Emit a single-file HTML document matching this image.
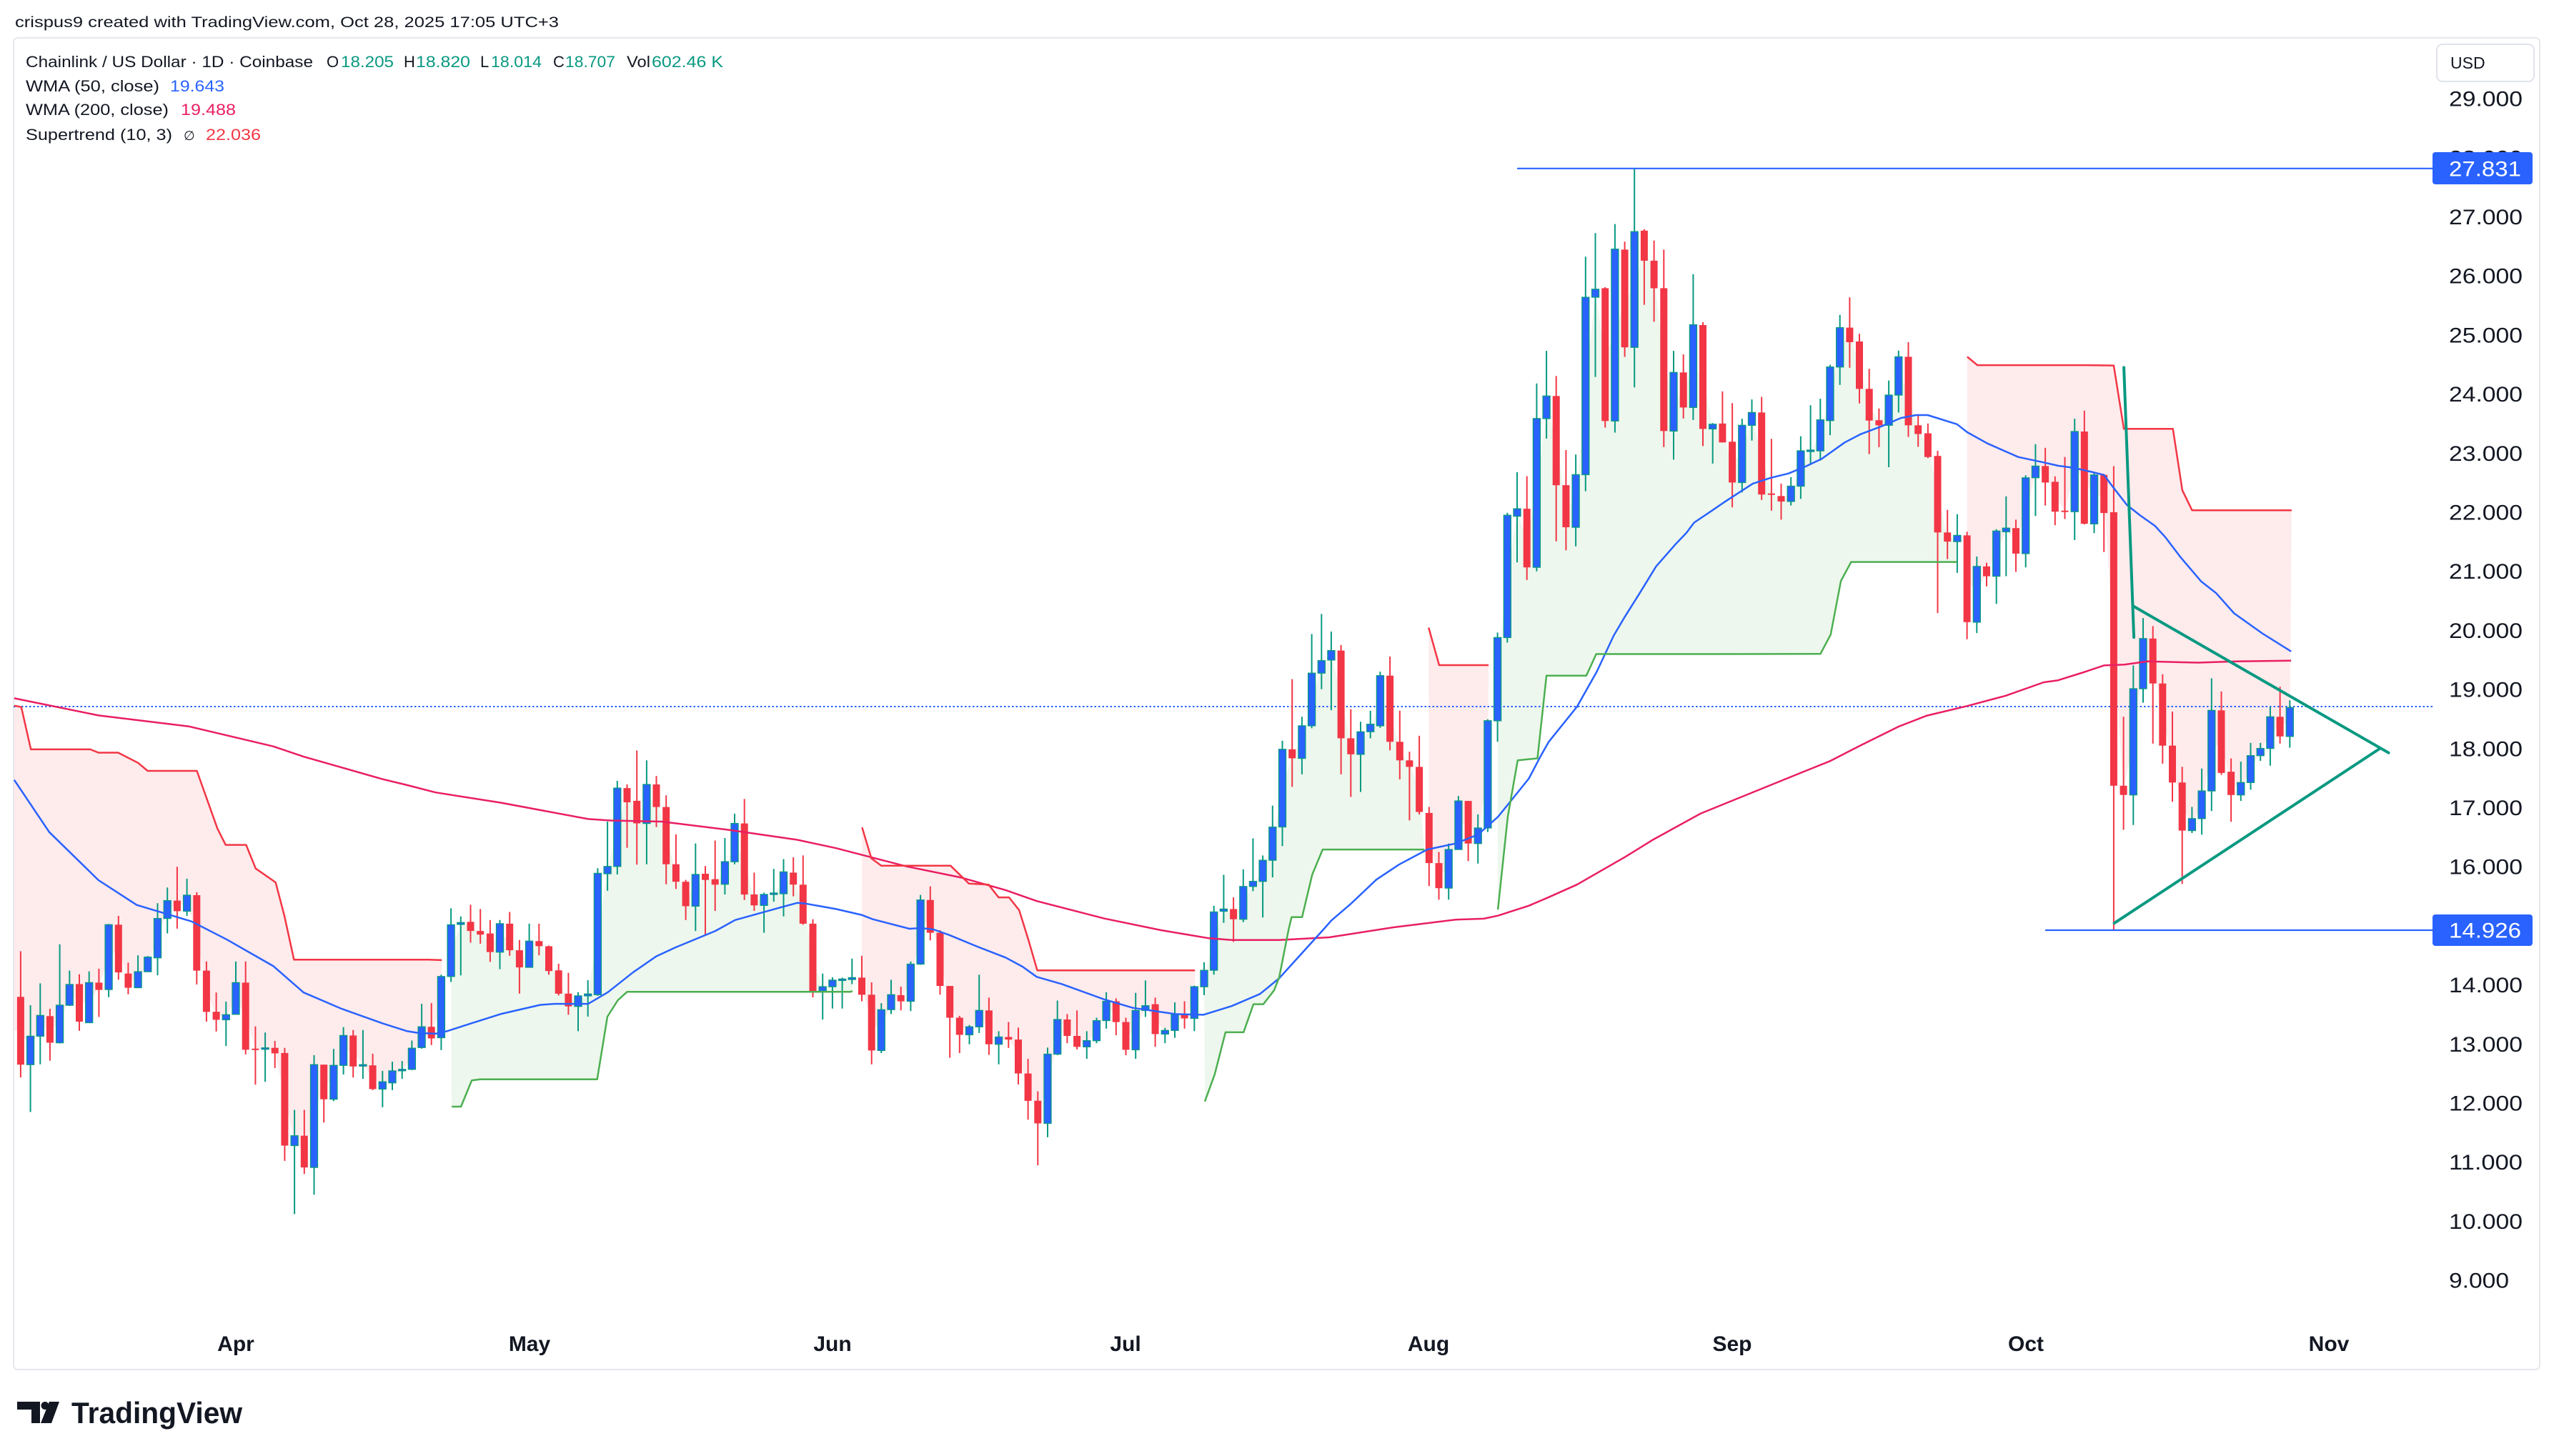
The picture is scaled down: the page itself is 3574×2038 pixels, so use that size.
<!DOCTYPE html>
<html><head><meta charset="utf-8">
<style>
html,body{margin:0;padding:0;background:#fff;width:3574px;height:2038px;overflow:hidden}
svg{display:block}
text{font-family:"Liberation Sans",Arial,sans-serif}
</style></head><body>
<svg id="s" xmlns="http://www.w3.org/2000/svg" width="3574" height="2038" viewBox="0 0 3574 2038">
<rect x="0" y="0" width="3574" height="2038" fill="#ffffff"/>
<rect x="19" y="53" width="3535" height="1864" rx="6" fill="#ffffff" stroke="#e6e8ec" stroke-width="2"/>

<text x="21" y="38" font-size="21" fill="#131722" textLength="761" lengthAdjust="spacingAndGlyphs">crispus9 created with TradingView.com, Oct 28, 2025 17:05 UTC+3</text>

<g id="fills"></g>
<line x1="19" y1="989" x2="3404" y2="989" stroke="#2962ff" stroke-width="2" stroke-dasharray="2.5 3"/>
<g id="cand"></g>
<g id="lines"></g>

<!-- drawings -->
<line x1="2123" y1="235.8" x2="3404" y2="235.8" stroke="#2962ff" stroke-width="2.2"/>
<line x1="2862" y1="1302" x2="3404" y2="1302" stroke="#2962ff" stroke-width="2.2"/>
<g stroke="#089981" stroke-width="4" stroke-linecap="round" fill="none">
<line x1="2972.1" y1="514.4" x2="2986.1" y2="892.1"/>
<line x1="2986.1" y1="848.9" x2="3342.5" y2="1053.7"/>
<line x1="2958.6" y1="1292.2" x2="3330.7" y2="1047.5"/>
</g>

<!-- legend -->
<g font-size="22" fill="#131722">
<text x="36" y="94" textLength="402" lengthAdjust="spacingAndGlyphs">Chainlink / US Dollar · 1D · Coinbase</text>
<text x="457" y="94">O</text><text x="477" y="94" fill="#089981" textLength="74" lengthAdjust="spacingAndGlyphs">18.205</text>
<text x="565" y="94">H</text><text x="582" y="94" fill="#089981" textLength="76" lengthAdjust="spacingAndGlyphs">18.820</text>
<text x="672" y="94">L</text><text x="687" y="94" fill="#089981" textLength="71" lengthAdjust="spacingAndGlyphs">18.014</text>
<text x="774" y="94">C</text><text x="791" y="94" fill="#089981" textLength="70" lengthAdjust="spacingAndGlyphs">18.707</text>
<text x="877" y="94" textLength="33" lengthAdjust="spacingAndGlyphs">Vol</text><text x="912" y="94" fill="#089981" textLength="100" lengthAdjust="spacingAndGlyphs">602.46 K</text>
<text x="36" y="128" textLength="187" lengthAdjust="spacingAndGlyphs">WMA (50, close)</text>
<text x="238" y="128" fill="#2962ff" textLength="76" lengthAdjust="spacingAndGlyphs">19.643</text>
<text x="36" y="161" textLength="200" lengthAdjust="spacingAndGlyphs">WMA (200, close)</text>
<text x="253" y="161" fill="#e91e63" textLength="77" lengthAdjust="spacingAndGlyphs">19.488</text>
<text x="36" y="196" textLength="205" lengthAdjust="spacingAndGlyphs">Supertrend (10, 3)</text>
<text x="257" y="196" font-family="DejaVu Sans, sans-serif" font-size="18">∅</text>
<text x="288" y="196" fill="#f23645" textLength="77" lengthAdjust="spacingAndGlyphs">22.036</text>
</g>

<!-- price axis -->
<rect x="3410" y="62" width="136" height="52" rx="8" fill="#ffffff" stroke="#e0e3eb" stroke-width="2"/>
<text x="3429" y="96" font-size="23" fill="#131722">USD</text>
<g font-size="30" fill="#131722">
<text x="3427" y="148.6" textLength="103" lengthAdjust="spacingAndGlyphs">29.000</text>
<text x="3427" y="231.3" textLength="103" lengthAdjust="spacingAndGlyphs">28.000</text>
<text x="3427" y="314" textLength="103" lengthAdjust="spacingAndGlyphs">27.000</text>
<text x="3427" y="396.7" textLength="103" lengthAdjust="spacingAndGlyphs">26.000</text>
<text x="3427" y="479.4" textLength="103" lengthAdjust="spacingAndGlyphs">25.000</text>
<text x="3427" y="562.1" textLength="103" lengthAdjust="spacingAndGlyphs">24.000</text>
<text x="3427" y="644.8" textLength="103" lengthAdjust="spacingAndGlyphs">23.000</text>
<text x="3427" y="727.5" textLength="103" lengthAdjust="spacingAndGlyphs">22.000</text>
<text x="3427" y="810.2" textLength="103" lengthAdjust="spacingAndGlyphs">21.000</text>
<text x="3427" y="892.9" textLength="103" lengthAdjust="spacingAndGlyphs">20.000</text>
<text x="3427" y="975.6" textLength="103" lengthAdjust="spacingAndGlyphs">19.000</text>
<text x="3427" y="1058.3" textLength="103" lengthAdjust="spacingAndGlyphs">18.000</text>
<text x="3427" y="1141" textLength="103" lengthAdjust="spacingAndGlyphs">17.000</text>
<text x="3427" y="1223.7" textLength="103" lengthAdjust="spacingAndGlyphs">16.000</text>
<text x="3427" y="1306.4" textLength="103" lengthAdjust="spacingAndGlyphs">15.000</text>
<text x="3427" y="1389.1" textLength="103" lengthAdjust="spacingAndGlyphs">14.000</text>
<text x="3427" y="1471.8" textLength="103" lengthAdjust="spacingAndGlyphs">13.000</text>
<text x="3427" y="1554.5" textLength="103" lengthAdjust="spacingAndGlyphs">12.000</text>
<text x="3427" y="1637.2" textLength="103" lengthAdjust="spacingAndGlyphs">11.000</text>
<text x="3427" y="1719.9" textLength="103" lengthAdjust="spacingAndGlyphs">10.000</text>
<text x="3427" y="1802.6" textLength="84" lengthAdjust="spacingAndGlyphs">9.000</text>
</g>
<rect x="3404" y="213" width="140" height="45" rx="4" fill="#2962ff"/>
<text x="3427" y="246.5" font-size="30" fill="#ffffff" textLength="101" lengthAdjust="spacingAndGlyphs">27.831</text>
<rect x="3404" y="1280" width="140" height="44" rx="4" fill="#2962ff"/>
<text x="3427" y="1312.5" font-size="30" fill="#ffffff" textLength="101" lengthAdjust="spacingAndGlyphs">14.926</text>

<!-- time axis -->
<g font-size="30" font-weight="bold" fill="#131722" text-anchor="middle">
<text x="330" y="1891">Apr</text>
<text x="741" y="1891">May</text>
<text x="1165" y="1891">Jun</text>
<text x="1575" y="1891">Jul</text>
<text x="1999" y="1891">Aug</text>
<text x="2424" y="1891">Sep</text>
<text x="2835" y="1891">Oct</text>
<text x="3259" y="1891">Nov</text>
</g>

<!-- logo -->
<g fill="#131722">
<path d="M24 1962 H56 V1992 H44 V1973 H24 Z"/>
<circle cx="63" cy="1967.5" r="5.5"/>
<path d="M69 1962 H83 L72 1992 H57 Z"/>
<text x="100" y="1992" font-size="42" font-weight="bold" textLength="239" lengthAdjust="spacingAndGlyphs">TradingView</text>
</g>
</svg>

<script>
(function(){
const NS='http://www.w3.org/2000/svg';
function el(t,a,p){const e=document.createElementNS(NS,t);for(const k in a)e.setAttribute(k,a[k]);p.appendChild(e);return e;}
const Z={z4:[0,2.6133,930,1.96],z5:[570,2.529,900,1.96],z6:[1170,2.529,950,1.96],z7:[1760,2.529,200,1.4255],z8:[2360,2.8,280,1.96],z9:[2880,2.8,460,1.7818]};
const cy=(z,v)=>Z[z][2]+v/Z[z][3];
const cx=(z,v)=>Z[z][0]+v/Z[z][1];
const P=(z,a)=>a.map(p=>[cx(z,p[0]),cy(z,p[1])]);
const X=i=>330+13.687*(i-23);
const G=[
['z4',1,[[787,1133,912,1098,0],[935,1228,1020,1098,1],[875,1097,963,1020,1],[945,1087,965,1038,0],[768,1040,935,1038,1],[840,937,878,935,1],[850,1005,877,980,0],[842,983,873,983,1],[835,967,873,893,0],[712,913,714,892,1],[690,865,714,845,0],[818,905,848,887,0],[798,888,843,887,1],[800,843,803,843,1],[655,853,697,805,1],[612,738,648,697,1],[555,725,648,677,0],[588,690,633,677,1],[625,878,633,840,0],[815,980,840,953,0],[900,1007,953,975,0],[925,1047,961,975,1],[815,960,873,960,1],[815,1070,873,1057,0],[993,1153,1054,1057,0],[1010,1145,1052,1056,1],[1033,1107,1052,1067,0],[1052,1362,1066,1320,0],[1222,1508,1293,1320,1],[1222,1398,1293,1380,0],[1072,1455,1098,1380,1],[1098,1257,1098,1193,0],[1055,1198,1100,1193,1],[995,1125,1018,1100,1],[1003,1133,1018,1103,0],[1003,1137,1098,1102,1],[1068,1168,1100,1165,0],[1115,1215,1145,1165,1],[1090,1168,1115,1148,1],[1088,1137,1111,1115,1],[1032,1113,1053,1111,1]]],
['z5',42,[[990,1113,1053,1110,1],[988,1103,1053,1085,0],[910,1117,915,1083,1],[728,930,773,915,1],[750,912,767,772,1],[718,822,765,790,0],[730,825,790,800,0],[760,875,797,848,0],[760,895,770,848,1],[738,858,770,843,0],[815,962,843,890,0],[770,890,818,890,1],[770,857,818,832,0],[830,910,832,900,0],[880,967,898,962,0],[905,1020,962,997,0],[958,1065,968,997,1],[925,1025,963,968,1],[618,968,632,965,1],[490,680,613,633,1],[378,635,398,613,1],[388,562,398,437,0],[295,608,433,495,0],[322,607,388,495,1],[365,505,388,450,0],[418,662,450,607,0],[525,675,607,655,0],[650,760,655,722,0],[550,790,635,722,1],[612,800,633,650,0],[542,735,648,663,0],[535,690,600,662,1],[468,607,495,600,1],[428,705,495,690,0],[630,735,690,720,0],[685,795,690,720,1],[620,710,686,690,1],[593,750,628,688,1],[588,695,630,663,0],[583,773,663,770,0],[758,972,770,955,0],[907,1033,943,955,1],[917,1003,925,943,1],[918,1003,922,925,1]]],
['z6',86,[[768,838,820,825,1],[760,885,820,867,0],[833,1058,867,1020,0],[890,1027,908,1020,1],[826,920,867,908,1],[845,910,868,885,0],[776,912,783,885,1],[593,785,607,783,1],[570,718,607,697,0],[690,867,697,843,0],[843,1040,843,930,0],[925,1027,930,977,0],[950,1003,955,977,1],[812,972,910,955,1],[875,1032,910,1003,0],[967,1058,983,1003,1],[942,1013,983,990,0],[957,1113,990,1083,0],[1043,1210,1083,1158,0],[1132,1335,1158,1220,0],[1012,1258,1030,1220,1],[883,1033,935,1030,1],[920,1000,935,980,0],[910,1017,980,1010,0],[967,1043,993,1010,1],[930,1000,938,993,1],[860,960,885,938,1],[877,978,885,942,0],[930,1033,942,1018,0],[862,1043,910,1018,1],[828,928,897,910,1],[875,1010,893,975,0],[958,1000,965,975,1],[888,985,922,965,1],[885,960,922,932,0],[842,967,845,932,1],[778,868,800,845,1],[623,812,640,800,1],[538,670,632,638,1],[600,722,632,660,0],[523,668,570,660,1],[438,583,556,570,1],[485,655,498,556,1],[348,545,407,498,1]]],
['z7',130,[[1193,1403,1210,1365,1],[1070,1285,1210,1228,0],[1145,1260,1163,1228,1],[980,1168,1058,1163,1],[940,1090,1033,1058,1],[975,1132,1013,1032,1],[1002,1260,1013,1188,0],[1130,1305,1188,1220,0],[1155,1295,1175,1220,1],[1133,1188,1160,1175,1],[1055,1167,1063,1163,1],[1025,1212,1063,1195,0],[1133,1270,1195,1232,0],[1215,1352,1232,1245,0],[1183,1340,1245,1335,0],[1325,1483,1337,1437,0],[1415,1510,1437,1487,0],[1398,1510,1410,1487,1],[1303,1410,1313,1410,1],[1313,1433,1313,1398,0],[1340,1438,1367,1398,1],[1150,1375,1153,1367,1],[977,1195,987,1153,1],[738,997,743,987,1],[657,837,730,745,1],[665,872,730,847,0],[480,855,550,847,1],[415,590,505,550,1],[465,795,505,683,0],[613,813,683,767,0],[622,805,662,767,1],[227,695,308,662,1],[180,467,292,308,1],[288,568,290,555,0],[162,578,212,555,1],[197,427,213,408,0],[51,488,177,408,1],[172,323,175,235,0],[195,357,235,290,0],[213,607,290,575,0],[415,632,458,575,1],[422,550,458,528,0],[262,553,363,528,1]]],
['z8',173,[[335,675,343,628,0],[612,723,615,628,1],[525,665,613,665,0],[557,843,663,775,0],[600,802,618,775,1],[547,660,583,618,1],[540,823,583,808,0],[655,852,805,808,0],[778,877,812,827,0],[760,838,785,827,1],[648,820,688,785,1],[563,725,686,690,1],[545,715,603,688,1],[452,645,458,605,1],[315,507,350,458,1],[267,460,350,390,0],[367,558,388,518,0],[463,697,518,605,0],[572,678,604,618,0],[495,733,535,618,1],[413,583,430,535,1],[390,650,430,618,0],[588,677,618,642,0],[613,708,640,705,0],[688,1133,702,912,0],[850,985,912,937,0],[862,1023,920,937,1],[910,1205,920,1158,0],[978,1188,1005,1158,1],[995,1060,1005,1032,0],[903,1108,908,1032,1],[813,1032,900,910,1],[877,1020,900,970,0],[755,1008,762,970,1],[670,867,730,762,1],[680,838,730,775,0],[758,892,773,855,0],[705,875,852,855,0],[600,933,635,855,1],[578,890,635,888,0]]],
['z9',213,[[360,510,365,487,1],[362,557,365,460,0],[343,1500,458,1140,0],[968,1250,1140,1163,0],[840,1238,898,1163,1],[722,933,773,898,1],[742,1035,773,885,0],[862,1085,885,1040,0],[955,1180,1040,1132,0],[1093,1385,1132,1252,0],[1193,1258,1222,1252,1],[1097,1262,1153,1222,1],[872,1203,952,1153,1],[905,1113,952,1108,0],[1072,1230,1105,1163,0],[1080,1178,1132,1163,1],[1033,1150,1065,1132,1],[1033,1078,1047,1065,1],[943,1090,968,1047,1],[893,1035,968,1017,0],[927,1045,945,1017,1]]]
];
const C={};
G.forEach(g=>{const z=g[0],s=g[1];g[2].forEach((c,k)=>{C[s+k]={x:X(s+k),wt:cy(z,c[0]),wb:cy(z,c[1]),bt:cy(z,c[2]),bb:cy(z,c[3]),up:c[4]};});});
const mid=i=>(C[i].bt+C[i].bb)/2;
const ps=a=>a.map(p=>p[0].toFixed(1)+','+p[1].toFixed(1)).join(' ');

const S=[
 {a:1,b:44,up:0,left:19.9,p:[...P('z4',[[52,113],[78,117],[113,233],[330,233],[360,242],[432,242],[505,270],[540,292],[720,292],[795,450],[825,495],[900,495],[935,560],[1008,598],[1040,690],[1075,810],[1568,810]]),...P('z5',[[122,870]])]},
 {a:45,b:86,up:1,p:[...P('z5',[[157,1272],[190,1272],[228,1200],[258,1197],[672,1197],[708,1025],[745,980],[778,957],[1568,957]]),...P('z6',[[58,857]])]},
 {a:87,b:121,up:0,p:P('z6',[[92,408],[125,493],[160,513],[405,513],[470,562],[540,565],[575,600],[612,600],[648,635],[680,715],[712,800],[1270,800]])},
 {a:122,b:144,up:1,p:[...P('z6',[[1305,1160],[1340,1085],[1378,970],[1442,970],[1477,893],[1512,893],[1550,855],[1568,820]]),...P('z7',[[110,1568],[120,1545],[157,1545],[193,1460],[230,1410],[590,1410]])]},
 {a:145,b:151,up:0,p:P('z7',[[605,967],[642,1042],[817,1042]])},
 {a:152,b:199,up:1,p:[...P('z7',[[850,1530],[885,1345],[920,1232],[990,1228],[1022,1063],[1163,1063],[1198,1020],[1568,1020]]),...P('z8',[[525,1245],[565,1192],[605,1045],[645,993],[1060,993]])]},
 {a:200,b:233,up:0,p:[...P('z8',[[1100,430],[1140,453],[1568,453]]),...P('z9',[[218,92],[258,250],[450,250],[487,403],[525,453],[915,453]])]}
];
const fills=document.getElementById('fills'),lines=document.getElementById('lines'),cg=document.getElementById('cand');
S.forEach(s=>{
 const poly=s.p.slice();
 for(let i=s.b;i>=s.a;i--)poly.push([C[i].x,mid(i)]);
 if(s.left)poly.push([s.left,mid(s.a)]);
 el('polygon',{points:ps(poly),fill:s.up?'rgba(76,175,80,0.1)':'rgba(242,54,69,0.1)'},fills);
});
for(let i=1;i<=233;i++){const c=C[i];if(!c)continue;
 const col=c.up?'#089981':'#f23645';
 el('line',{x1:c.x.toFixed(1),x2:c.x.toFixed(1),y1:c.wt.toFixed(1),y2:c.wb.toFixed(1),stroke:col,'stroke-width':2},cg);
 const h=Math.max(c.bb-c.bt,2);
 el('rect',{x:(c.x-5).toFixed(1),y:c.bt.toFixed(1),width:10,height:h.toFixed(1),fill:c.up?'#2962ff':'#f23645',stroke:c.up?'#089981':'none','stroke-width':1.3},cg);
}
const W200=[...P('z4',[[52,93],[360,140],[690,170],[1000,225],[1110,253],[1400,315]]),
 ...P('z5',[[0,390],[100,410],[330,438],[640,483],[720,487],[900,490],[1140,513],[1380,540]]),
 ...P('z6',[[0,465],[90,483],[250,515],[440,545],[600,580],[710,610],[950,658],[1150,690],[1320,712],[1400,717],[1568,717]]),
 [1860,1312],[1950,1298],
 ...P('z7',[[700,1550],[800,1548],[850,1542],[960,1522],[1030,1505],[1130,1480],[1300,1425],[1400,1390],[1568,1338]]),
 ...P('z8',[[460,1568],[560,1540],[680,1497],[830,1445],[940,1415],[1100,1388],[1250,1360],[1400,1323]]),
 ...P('z9',[[0,877],[100,857],[180,840],[260,838],[350,830],[550,833],[700,830],[913,828]])];
const W50=[...P('z4',[[52,317],[180,460],[360,592],[500,660],[700,705],[830,755],[1000,828],[1110,900],[1250,945],[1400,985]]),
 ...P('z5',[[0,1065],[40,1070],[100,1072],[140,1065],[220,1045],[330,1018],[470,993],[520,990],[640,990],[710,958],[800,903],[880,860],[950,835],[1090,790],[1160,760],[1300,730],[1380,713],[1410,715]]),
 ...P('z6',[[0,632],[90,648],[130,660],[260,686],[300,684],[345,688],[400,703],[500,735],[600,765],[660,790],[710,818],[800,838],[950,880],[1050,903],[1200,920],[1300,922],[1400,898],[1500,865],[1568,822]]),
 ...P('z7',[[235,1568],[260,1552],[330,1518],[420,1470],[500,1440],[600,1410],[700,1398],[780,1380],[850,1345],[900,1310],[960,1268],[1000,1225],[1030,1195],[1130,1125],[1200,1055],[1260,983],[1300,945],[1350,900],[1410,845],[1480,800]]),
 ...P('z8',[[0,913],[30,885],[100,852],[150,828],[260,778],[330,762],[400,750],[470,730],[530,710],[620,665],[680,643],[760,622],[840,598],[900,590],[945,590],[1060,615],[1100,637],[1180,668],[1300,705],[1400,720]]),
 ...P('z9',[[0,342],[60,347],[130,357],[180,365],[215,395],[270,440],[320,465],[380,492],[420,520],[480,570],[560,630],[620,660],[690,710],[800,760],[913,805]])];
el('polyline',{points:ps(W200),fill:'none',stroke:'#e91e63','stroke-width':2.5,'stroke-linejoin':'round'},lines);
el('polyline',{points:ps(W50),fill:'none',stroke:'#2962ff','stroke-width':2.5,'stroke-linejoin':'round'},lines);
S.forEach(s=>{
 el('polyline',{points:ps(s.p),fill:'none',stroke:s.up?'#4caf50':'#f23645','stroke-width':2.5,'stroke-linejoin':'round'},lines);
});
})();
</script>
</body></html>
